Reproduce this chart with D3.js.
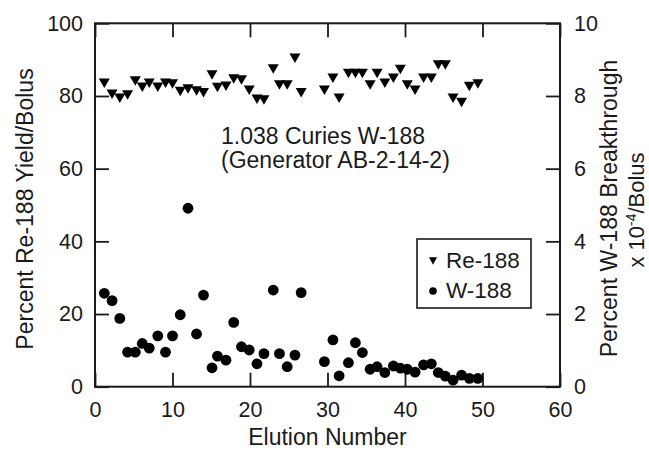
<!DOCTYPE html>
<html>
<head>
<meta charset="utf-8">
<script src="https://cdn.jsdelivr.net/npm/d3@7"></script>
<style>
  body { margin: 0; background: #fff; }
  text { font-family: "Liberation Sans", Arial, Helvetica, sans-serif; fill: #1a1a1a; }
</style>
</head>
<body>
<div id="chart"></div>
<script>
// elution number of each run
const elution = [1.2, 2.2, 3.2, 4.2, 5.2, 6.1, 7.0, 8.1, 9.1, 10.0, 11.0, 12.0, 13.1, 14.0, 15.1, 15.8,
  16.9, 17.9, 18.9, 19.9, 20.9, 21.8, 23.0, 23.8, 24.8, 25.8, 26.6,
  29.6, 30.7, 31.5, 32.7, 33.6, 34.5, 35.5, 36.4, 37.4, 38.5, 39.4, 40.3, 41.3, 42.4, 43.4,
  44.3, 45.2, 46.2, 47.3, 48.3, 49.4];
// percent Re-188 yield / bolus (left axis)
const re188Yield = [83.5, 80.5, 79.4, 80.3, 84.1, 82.4, 83.5, 82.4, 83.5, 83.3, 81.2, 81.9, 81.4, 80.9, 85.8, 82.3,
  82.7, 84.7, 84.4, 81.6, 79.1, 78.9, 87.4, 83.0, 83.0, 90.4, 80.9,
  81.6, 84.9, 79.4, 86.2, 86.2, 86.2, 83.0, 86.2, 83.5, 84.9, 87.3, 83.0, 81.6, 84.9, 84.9,
  88.5, 88.5, 79.4, 78.2, 82.6, 83.3];
// percent W-188 breakthrough x 10^-4 / bolus (right axis)
const w188Breakthrough = [2.57, 2.37, 1.88, 0.95, 0.95, 1.19, 1.06, 1.40, 0.95, 1.40, 1.98, 4.91, 1.45, 2.52, 0.52, 0.84,
  0.73, 1.77, 1.10, 1.01, 0.63, 0.91, 2.66, 0.91, 0.55, 0.87, 2.59,
  0.69, 1.29, 0.30, 0.66, 1.21, 0.94, 0.48, 0.55, 0.39, 0.57, 0.51, 0.48, 0.40, 0.60, 0.63,
  0.39, 0.29, 0.18, 0.32, 0.23, 0.23];

const xTicks = [0, 10, 20, 30, 40, 50, 60];
const leftTicks = [0, 20, 40, 60, 80, 100];
const rightTicks = [0, 2, 4, 6, 8, 10];
const annotation = ["1.038 Curies W-188", "(Generator AB-2-14-2)"];
const seriesNames = ["Re-188", "W-188"];

const W = 649, H = 450;
const plot = { left: 95, right: 560, top: 23.3, bottom: 386.7 };
const tickLen = 14;
const ink = "#1a1a1a";

const svg = d3.select("#chart").append("svg")
  .attr("width", W)
  .attr("height", H);

const x = d3.scaleLinear().domain([0, 60]).range([plot.left, plot.right]);
const yLeft = d3.scaleLinear().domain([0, 100]).range([plot.bottom, plot.top]);
const yRight = d3.scaleLinear().domain([0, 10]).range([plot.bottom, plot.top]);

// axes, ticks point into the plot
function styleAxis(g, fontSize) {
  g.select(".domain").remove();
  g.selectAll(".tick line").attr("stroke", ink).attr("stroke-width", 1.8);
  g.selectAll(".tick text").attr("fill", ink).style("font-size", fontSize + "px");
}

svg.append("g")
  .attr("transform", `translate(0,${plot.bottom})`)
  .call(d3.axisBottom(x).tickValues(xTicks).tickSize(-tickLen).tickPadding(15))
  .call(g => styleAxis(g, 21.5));

svg.append("g")
  .attr("transform", `translate(0,${plot.top})`)
  .call(d3.axisTop(x).tickValues(xTicks).tickSize(-tickLen).tickFormat(""))
  .call(g => styleAxis(g, 21.5));

svg.append("g")
  .attr("transform", `translate(${plot.left},0)`)
  .call(d3.axisLeft(yLeft).tickValues(leftTicks).tickSize(-tickLen).tickPadding(12))
  .call(g => styleAxis(g, 21.5));

svg.append("g")
  .attr("transform", `translate(${plot.right},0)`)
  .call(d3.axisRight(yRight).tickValues(rightTicks).tickSize(-tickLen).tickPadding(14))
  .call(g => styleAxis(g, 21.5));

// frame
svg.append("rect")
  .attr("x", plot.left)
  .attr("y", plot.top)
  .attr("width", plot.right - plot.left)
  .attr("height", plot.bottom - plot.top)
  .attr("fill", "none")
  .attr("stroke", ink)
  .attr("stroke-width", 2);

// axis titles
svg.append("text")
  .attr("x", (plot.left + plot.right) / 2)
  .attr("y", 445)
  .attr("text-anchor", "middle")
  .style("font-size", "23px")
  .text("Elution Number");

svg.append("text")
  .attr("transform", "translate(32.5,209) rotate(-90)")
  .attr("text-anchor", "middle")
  .style("font-size", "23px")
  .text("Percent Re-188 Yield/Bolus");

svg.append("text")
  .attr("transform", "translate(617,208.5) rotate(-90)")
  .attr("text-anchor", "middle")
  .style("font-size", "23px")
  .text("Percent W-188 Breakthrough");

let unitLabel = svg.append("text")
  .attr("transform", "translate(643.5,210) rotate(-90)")
  .attr("text-anchor", "middle")
  .style("font-size", "22px");
unitLabel.append("tspan").text("x 10");
unitLabel.append("tspan").attr("dy", -8).style("font-size", "14px").text("-4");
unitLabel.append("tspan").attr("dy", 8).text("/Bolus");

// annotation
svg.append("g").selectAll("text")
  .data(annotation).enter()
  .append("text")
    .attr("x", 221)
    .attr("y", (d, i) => 144 + i * 24)
    .style("font-size", "23px")
    .text(d => d);

// markers
const triPath = (w, h) => `M${-w / 2},${-h / 2}L${w / 2},${-h / 2}L0,${h / 2}Z`;

svg.append("g").selectAll("path")
  .data(elution).enter()
  .append("path")
    .attr("d", triPath(11, 9.5))
    .attr("transform", (d, i) => `translate(${x(d)},${yLeft(re188Yield[i])})`)
    .attr("fill", "#000");

svg.append("g").selectAll("circle")
  .data(elution).enter()
  .append("circle")
    .attr("cx", d => x(d))
    .attr("cy", (d, i) => yRight(w188Breakthrough[i]))
    .attr("r", 5.4)
    .attr("fill", "#000");

// legend
const legend = svg.append("g").attr("transform", "translate(417,239)");
legend.append("rect")
  .attr("width", 114)
  .attr("height", 69)
  .attr("fill", "#fff")
  .attr("stroke", ink)
  .attr("stroke-width", 1.6);
legend.append("path")
  .attr("d", triPath(8, 7.5))
  .attr("transform", "translate(16,22)")
  .attr("fill", "#000");
legend.append("circle")
  .attr("cx", 16)
  .attr("cy", 52)
  .attr("r", 3.8)
  .attr("fill", "#000");
legend.selectAll("text")
  .data(seriesNames).enter()
  .append("text")
    .attr("x", 29)
    .attr("y", (d, i) => 29 + i * 30)
    .style("font-size", "22.5px")
    .text(d => d);
</script>
</body>
</html>
